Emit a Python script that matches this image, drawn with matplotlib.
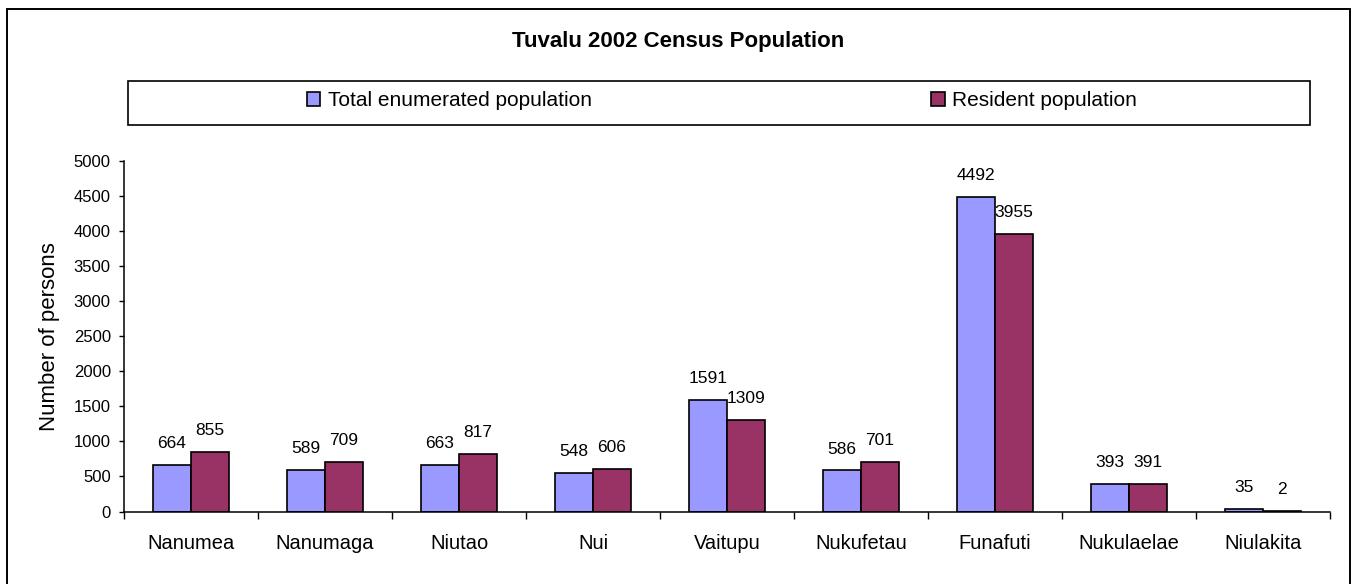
import numpy as np
import matplotlib.pyplot as plt
from matplotlib.patches import Rectangle, Patch

plt.rcParams['font.family'] = ['Liberation Sans', 'DejaVu Sans']

# census figures per island
islands = ['Nanumea', 'Nanumaga', 'Niutao', 'Nui', 'Vaitupu', 'Nukufetau',
           'Funafuti', 'Nukulaelae', 'Niulakita']
total_enum = [664, 589, 663, 548, 1591, 586, 4492, 393, 35]
resident = [855, 709, 817, 606, 1309, 701, 3955, 391, 2]

c_total = '#9999FF'
c_res = '#993366'

W, H = 1352, 584
fig = plt.figure(figsize=(W / 100, H / 100), dpi=100)

# outer chart border
fig.patches.append(Rectangle((6.5 / W, -0.02), 1343 / W, (H - 9.5) / H + 0.02,
                             transform=fig.transFigure, fill=False,
                             edgecolor='black', linewidth=1.4))

ax = fig.add_axes([124 / W, (H - 511.5) / H, 1206 / W, 350.5 / H])

x = np.arange(len(islands))
bw = 0.284
b1 = ax.bar(x - bw / 2, total_enum, bw, color=c_total, edgecolor='black', linewidth=1.2, zorder=2)
b2 = ax.bar(x + bw / 2, resident, bw, color=c_res, edgecolor='black', linewidth=1.2, zorder=2)

for bars, vals in [(b1, total_enum), (b2, resident)]:
    for b, v in zip(bars, vals):
        ax.annotate(str(v), (b.get_x() + b.get_width() / 2, v), xytext=(0, 10),
                    textcoords='offset points', ha='center', va='bottom',
                    fontsize=12.5, zorder=1)

ax.set_xlim(-0.5, len(islands) - 0.5)
ax.set_ylim(0, 5000)
ax.set_yticks(np.arange(0, 5001, 500))
ax.set_xticks(x)
ax.set_xticklabels(islands, fontsize=14.5)
ax.set_xticks(np.arange(-0.5, len(islands), 1), minor=True)
ax.tick_params(axis='x', which='major', length=0, pad=16)
ax.tick_params(axis='x', which='minor', length=5, width=1, direction='out')
ax.tick_params(axis='y', length=3.5, width=1, pad=6, labelsize=12)
ax.set_ylabel('Number of persons', fontsize=16, labelpad=10)

for s in ['top', 'right']:
    ax.spines[s].set_visible(False)
for s in ['left', 'bottom']:
    ax.spines[s].set_linewidth(1.1)

fig.text(678 / W, 1 - 42 / H, 'Tuvalu 2002 Census Population', ha='center', va='center',
         fontsize=16, fontweight='bold')

# legend box
fig.patches.append(Rectangle((128 / W, (H - 125) / H), 1182 / W, 44 / H,
                             transform=fig.transFigure, fill=False,
                             edgecolor='black', linewidth=1.2))
handles = [Patch(facecolor=c_total, edgecolor='black', linewidth=1.2),
           Patch(facecolor=c_res, edgecolor='black', linewidth=1.2)]
fig.legend(handles, ['Total enumerated population', 'Resident population'],
           loc='center', bbox_to_anchor=(722 / W, 1 - 101 / H), ncol=2, frameon=False,
           fontsize=15, handlelength=0.65, handleheight=0.65, handletextpad=0.35,
           columnspacing=16.3, borderpad=0)

fig.savefig('out.png', dpi=100)
